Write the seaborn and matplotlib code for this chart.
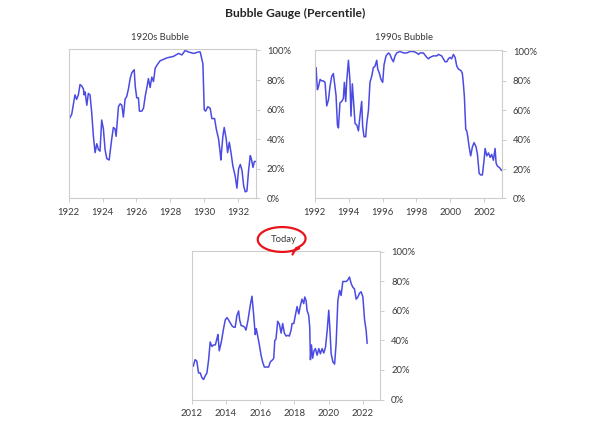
import numpy as np
import pandas as pd
import matplotlib
matplotlib.use("Agg")
import matplotlib.pyplot as plt
import seaborn as sns
from matplotlib.ticker import PercentFormatter
from matplotlib.lines import Line2D

# ---------------- data (percentile) ----------------
years_1920s = [1922.00, 1922.18, 1922.37, 1922.47, 1922.57, 1922.67, 1922.77, 1922.87, 1922.91, 1922.97,
               1923.07, 1923.16, 1923.26, 1923.36, 1923.46, 1923.56, 1923.66, 1923.76, 1923.85, 1923.95,
               1924.05, 1924.15, 1924.25, 1924.39, 1924.54, 1924.64, 1924.74, 1924.80, 1924.94, 1925.04,
               1925.14, 1925.23, 1925.33, 1925.43, 1925.53, 1925.63, 1925.73, 1925.87, 1925.93, 1926.02,
               1926.12, 1926.18, 1926.32, 1926.42, 1926.52, 1926.62, 1926.71, 1926.81, 1926.91, 1927.01,
               1927.11, 1927.21, 1927.40, 1927.80, 1928.19, 1928.49, 1928.69, 1928.88, 1929.08, 1929.38,
               1929.67, 1929.77, 1929.93, 1930.01, 1930.09, 1930.22, 1930.36, 1930.46, 1930.62, 1930.72,
               1930.86, 1930.95, 1930.99, 1931.11, 1931.19, 1931.31, 1931.39, 1931.49, 1931.59, 1931.70,
               1931.84, 1931.94, 1932.04, 1932.14, 1932.24, 1932.34, 1932.43, 1932.53, 1932.63, 1932.73,
               1932.79, 1932.89, 1932.97, 1933.05]
pct_1920s = [53, 57, 70, 67, 70, 77, 76, 74, 70, 72,
             63, 71, 70, 58, 42, 31, 37, 33, 32, 53,
             47, 33, 27, 26, 40, 48, 47, 42, 62, 64,
             63, 55, 67, 69, 74, 81, 85, 87, 76, 68,
             68, 59, 59, 61, 69, 75, 81, 75, 82, 79,
             88, 90, 93, 95, 96, 98, 97, 100, 99, 98,
             99, 99, 91, 60, 59, 62, 61, 54, 54, 47,
             40, 31, 26, 42, 48, 40, 31, 38, 31, 22,
             15, 7, 20, 23, 19, 8.5, 4.5, 5, 19, 29,
             27, 21, 25, 25]

years_1990s = [1992.00, 1992.02, 1992.08, 1992.16, 1992.22, 1992.32, 1992.41, 1992.51, 1992.61, 1992.71,
               1992.81, 1992.90, 1993.00, 1993.10, 1993.26, 1993.34, 1993.40, 1993.49, 1993.59, 1993.69,
               1993.75, 1993.83, 1993.89, 1993.99, 1994.08, 1994.14, 1994.22, 1994.28, 1994.38, 1994.48,
               1994.58, 1994.67, 1994.77, 1994.83, 1994.91, 1995.01, 1995.07, 1995.17, 1995.26, 1995.36,
               1995.46, 1995.56, 1995.66, 1995.72, 1995.82, 1995.91, 1996.01, 1996.09, 1996.21, 1996.35,
               1996.44, 1996.54, 1996.64, 1996.74, 1996.84, 1997.03, 1997.23, 1997.43, 1997.62, 1997.82,
               1998.02, 1998.12, 1998.21, 1998.41, 1998.61, 1998.71, 1998.80, 1999.00, 1999.20, 1999.30,
               1999.49, 1999.59, 1999.69, 1999.79, 1999.89, 1999.98, 2000.08, 2000.18, 2000.28, 2000.38,
               2000.48, 2000.63, 2000.71, 2000.77, 2000.83, 2000.87, 2000.91, 2000.97, 2001.03, 2001.11,
               2001.20, 2001.30, 2001.40, 2001.52, 2001.60, 2001.70, 2001.80, 2001.89, 2001.99, 2002.05,
               2002.15, 2002.25, 2002.35, 2002.44, 2002.54, 2002.64, 2002.70, 2002.78, 2002.90, 2003.03]
pct_1990s = [84, 88, 89, 74, 76, 81, 80, 80, 79, 63,
             67, 76, 83, 85, 70, 50, 48, 65, 66, 68,
             79, 66, 80, 94, 80, 56, 78, 68, 51, 50,
             46, 56, 66, 49, 42, 42, 51, 60, 79, 83,
             89, 90, 94, 88, 85, 81, 79, 91, 97, 99,
             98, 95, 93, 97, 99, 100, 99, 99, 100, 100,
             99, 98, 99, 99, 96, 95, 96, 97, 97, 98,
             97, 95, 93, 93, 95, 96, 95, 98, 96, 90,
             88, 87, 85, 78, 69, 58, 47, 46, 42, 35,
             29, 35, 38, 35, 30, 17, 16, 16, 26, 34,
             29, 31, 28, 30, 26, 34, 24, 22, 21, 19]

years_today = [2012.00, 2012.10, 2012.21, 2012.31, 2012.41, 2012.51, 2012.60, 2012.70, 2012.80, 2012.90,
               2013.00, 2013.09, 2013.19, 2013.29, 2013.39, 2013.48, 2013.54, 2013.62, 2013.74, 2013.87,
               2013.97, 2014.07, 2014.16, 2014.26, 2014.36, 2014.46, 2014.55, 2014.65, 2014.75, 2014.81,
               2014.90, 2014.98, 2015.10, 2015.18, 2015.30, 2015.43, 2015.53, 2015.63, 2015.72, 2015.78,
               2015.88, 2015.96, 2016.06, 2016.15, 2016.25, 2016.40, 2016.50, 2016.60, 2016.74, 2016.80,
               2016.86, 2016.93, 2017.03, 2017.13, 2017.23, 2017.32, 2017.42, 2017.52, 2017.62, 2017.71,
               2017.81, 2017.87, 2017.97, 2018.06, 2018.16, 2018.26, 2018.36, 2018.45, 2018.55, 2018.61,
               2018.69, 2018.74, 2018.84, 2018.90, 2018.94, 2019.00, 2019.07, 2019.15, 2019.23, 2019.33,
               2019.43, 2019.52, 2019.62, 2019.72, 2019.82, 2019.92, 2020.01, 2020.07, 2020.15, 2020.25,
               2020.35, 2020.44, 2020.54, 2020.64, 2020.73, 2020.83, 2020.93, 2021.03, 2021.12, 2021.22,
               2021.32, 2021.42, 2021.51, 2021.61, 2021.71, 2021.80, 2021.90, 2022.00, 2022.10, 2022.19,
               2022.25]
pct_today = [24, 22.5, 27, 26, 18, 18, 15, 13.5, 16, 18,
             27, 39, 36, 37, 37, 41, 44, 33, 39, 48,
             54, 55.5, 54, 52, 50, 49, 49, 57, 60, 54,
             50, 50, 49, 47, 54, 64, 70, 57, 44, 48,
             42, 37, 30, 25.5, 22, 22, 22, 25.5, 27, 28,
             40, 41, 53, 51, 45, 51.5, 45, 43, 43.5, 43,
             47, 51.5, 51.5, 57, 63, 58, 64, 68, 65, 69.5,
             67, 60.5, 57, 49, 27, 37, 28, 33, 34.5, 30,
             34.5, 31, 34.5, 31.5, 35.5, 47, 60.5, 49, 31, 25.5,
             24, 38, 67, 74, 70.5, 80, 80, 80, 81, 83,
             78.5, 76, 75, 68, 69.5, 72, 73, 69.5, 54, 47,
             38]

panel_titles = ["1920s Bubble", "1990s Bubble", "Today"]
main_title = "Bubble Gauge (Percentile)"
y_ticks = [0, 20, 40, 60, 80, 100]
x_ticks_1920s = [1922, 1924, 1926, 1928, 1930, 1932]
x_ticks_1990s = [1992, 1994, 1996, 1998, 2000, 2002]
x_ticks_today = [2012, 2014, 2016, 2018, 2020, 2022]

# ---------------- style ----------------
sns.set_theme(style="white")
plt.rcParams["font.family"] = ["Lato", "DejaVu Sans"]

W, H = 600, 428
fig = plt.figure(figsize=(W / 100, H / 100), dpi=100)
fig.patch.set_facecolor("white")

LINE = "#4B4BE3"
SPINE = "#CDCDCD"
TXT = "#3A3A3A"


def add_axes_px(l, t, r, b):
    return fig.add_axes([l / W, 1 - b / H, (r - l) / W, (b - t) / H])


def style_axes(ax, xticks, xlim):
    ax.set_xlim(*xlim)
    ax.set_ylim(0, 101)
    ax.set_xticks(xticks)
    ax.set_xticklabels([str(t) for t in xticks])
    ax.set_yticks(y_ticks)
    ax.yaxis.set_major_formatter(PercentFormatter(100, decimals=0))
    ax.yaxis.tick_right()
    ax.set_xlabel("")
    ax.set_ylabel("")
    for s in ax.spines.values():
        s.set_visible(True)
        s.set_color(SPINE)
        s.set_linewidth(0.8)
    ax.tick_params(axis="both", which="both", direction="out", length=3, width=0.7,
                   color=SPINE, labelsize=6.8, labelcolor=TXT, pad=3)
    ax.tick_params(axis="y", left=False, right=True, labelleft=False, labelright=True, pad=5)
    ax.tick_params(axis="x", bottom=True, top=False, pad=4)
    ax.grid(False)
    ax.set_facecolor("white")


ax1 = add_axes_px(68.7, 49, 255.7, 198.5)
ax2 = add_axes_px(314.7, 50, 501.7, 198.5)
ax3 = add_axes_px(191.5, 250.5, 380, 399.5)

df1 = pd.DataFrame({"year": years_1920s, "pct": pct_1920s})
df2 = pd.DataFrame({"year": years_1990s, "pct": pct_1990s})
df3 = pd.DataFrame({"year": years_today, "pct": pct_today})

for ax, df, xt, xl in [(ax1, df1, x_ticks_1920s, (1922, 1933.05)),
                       (ax2, df2, x_ticks_1990s, (1992, 2003.03)),
                       (ax3, df3, x_ticks_today, (2012, 2023.0))]:
    sns.lineplot(data=df, x="year", y="pct", ax=ax, color=LINE, linewidth=1.1,
                 estimator=None, sort=False)
    style_axes(ax, xt, xl)

# titles
fig.text(295 / W, 1 - 13.5 / H, main_title, ha="center", va="center",
         fontsize=8.7, fontweight="bold", color="#262626")
fig.text(160 / W, 1 - 37.5 / H, panel_titles[0], ha="center", va="center", fontsize=6.8, color=TXT)
fig.text(404 / W, 1 - 37.5 / H, panel_titles[1], ha="center", va="center", fontsize=6.8, color=TXT)
fig.text(284 / W, 1 - 239.5 / H, panel_titles[2], ha="center", va="center", fontsize=6.8, color=TXT)

# hand-drawn red circle around "Today"
th = np.linspace(np.deg2rad(-50), np.deg2rad(-50 + 365), 140)
cx, cy, rx, ry = 281.0, 239.5, 24.5, 12.0
rscale = 1 + 0.05 * np.sin(th * 1.5)
px = cx + rx * rscale * np.cos(th)
py = cy - ry * rscale * np.sin(th)
px = np.concatenate([[292.5], px])
py = np.concatenate([[254.5], py])
fig.add_artist(Line2D(px / W, 1 - py / H, transform=fig.transFigure,
                      color="#E8141B", linewidth=1.6, solid_capstyle="round",
                      solid_joinstyle="round"))

fig.savefig("out.png", dpi=100, facecolor="white")
